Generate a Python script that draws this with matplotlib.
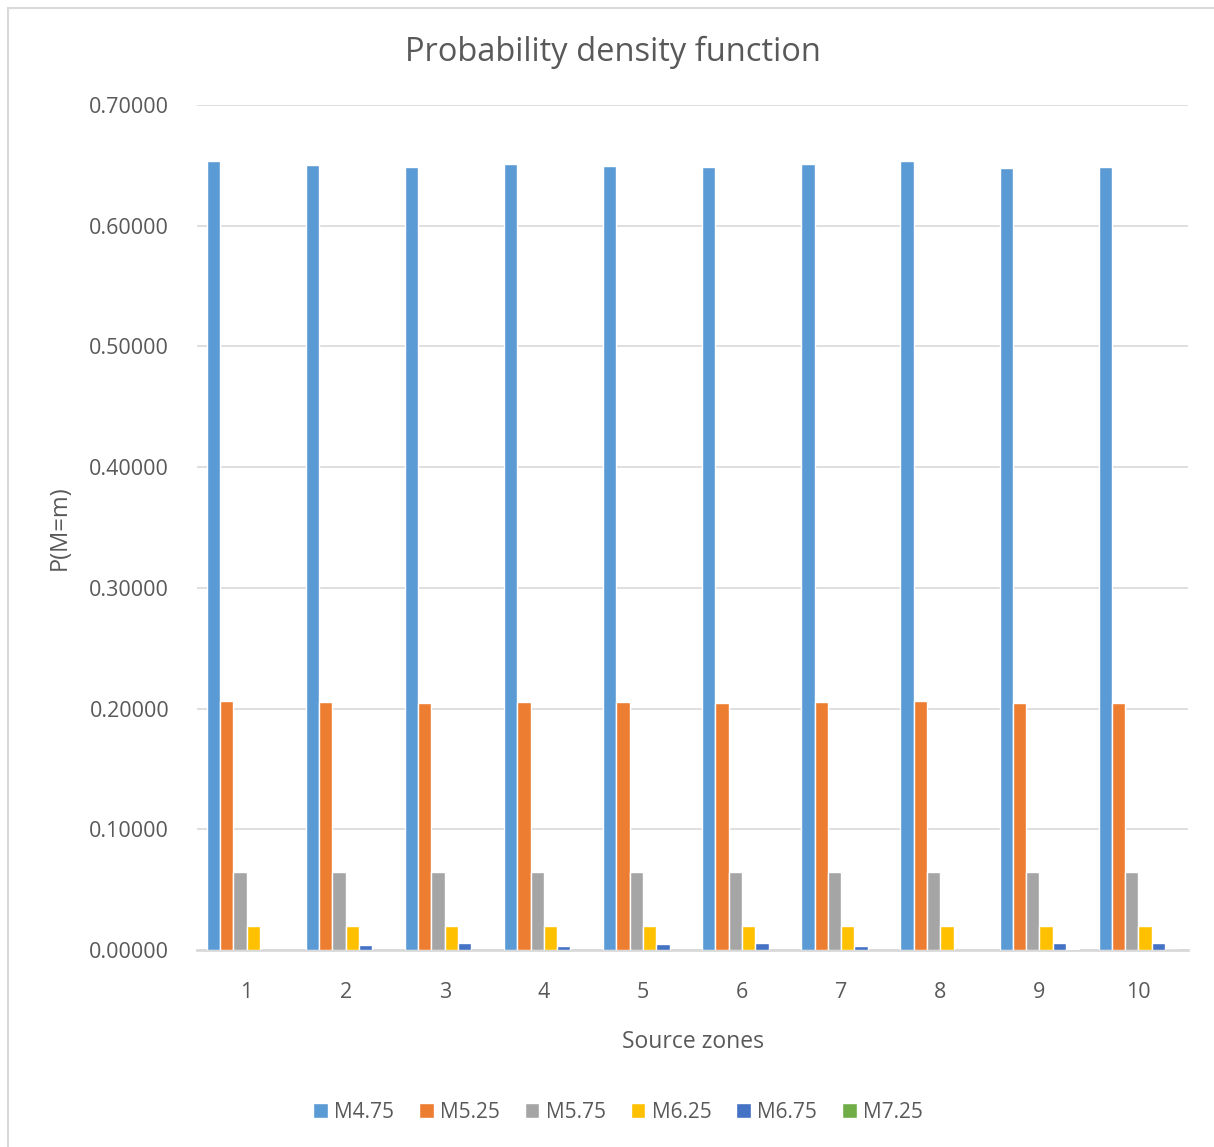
import matplotlib.pyplot as plt
import numpy as np
from matplotlib.patches import Rectangle

plt.rcParams['font.family'] = ['Open Sans', 'DejaVu Sans']

# data
zones = ['1', '2', '3', '4', '5', '6', '7', '8', '9', '10']
series_names = ['M4.75', 'M5.25', 'M5.75', 'M6.25', 'M6.75', 'M7.25']
m475 = [0.6537, 0.6504, 0.6490, 0.6512, 0.6498, 0.6490, 0.6512, 0.6537, 0.6479, 0.6487]
m525 = [0.2063, 0.2054, 0.2046, 0.2054, 0.2054, 0.2046, 0.2054, 0.2063, 0.2046, 0.2046]
m575 = [0.0650, 0.0648, 0.0643, 0.0648, 0.0648, 0.0643, 0.0648, 0.0650, 0.0643, 0.0643]
m625 = [0.0200, 0.0200, 0.0200, 0.0200, 0.0200, 0.0200, 0.0200, 0.0200, 0.0200, 0.0200]
m675 = [0.0000, 0.0042, 0.0058, 0.0033, 0.0052, 0.0058, 0.0031, 0.0000, 0.0058, 0.0058]
m725 = [0.0000, 0.0000, 0.0000, 0.0000, 0.0000, 0.0000, 0.0000, 0.0000, 0.0012, 0.0004]
colors = ['#5b9bd5', '#ed7d31', '#a5a5a5', '#ffc000', '#4472c4', '#70ad47']

fig = plt.figure(figsize=(12.14, 11.47), dpi=100)
ax = fig.add_axes([197 / 1214, 1 - 950 / 1147, 991 / 1214, 845 / 1147])

# outer chart border
fig.patches.append(Rectangle((8 / 1214, -0.01), 1.02, 1 - 8 / 1147 + 0.01,
                             transform=fig.transFigure, fill=False,
                             edgecolor='#d9d9d9', linewidth=1.5))

x = np.arange(len(zones))
step = 0.134
all_series = [m475, m525, m575, m625, m675, m725]
for i, vals in enumerate(all_series):
    offs = (i - 2.5) * step
    # zero values are left out so no white edge shows on the axis line
    v = np.array(vals, dtype=float)
    v[v == 0] = np.nan
    ax.bar(x + offs, v, width=step, color=colors[i], edgecolor='white',
           linewidth=1.0, label=series_names[i], zorder=3)

ax.set_xlim(-0.5, len(zones) - 0.5)
ax.set_ylim(0, 0.7)
ax.set_yticks(np.arange(0, 0.71, 0.1))
ax.set_yticklabels(['%.5f' % v for v in np.arange(0, 0.71, 0.1)])
ax.set_xticks(x)
ax.set_xticklabels(zones)
ax.tick_params(length=0, labelsize=15.5, labelcolor='#595959')
ax.tick_params(axis='y', pad=20)
ax.tick_params(axis='x', pad=23)
ax.grid(axis='y', color='#d9d9d9', linewidth=1.2, zorder=0)
for s in ['top', 'right', 'left']:
    ax.spines[s].set_visible(False)
ax.spines['bottom'].set_color('#d9d9d9')
ax.spines['bottom'].set_linewidth(2)

fig.text(613 / 1214, 1 - 52 / 1147, 'Probability density function', ha='center',
         va='center', fontsize=23.5, color='#595959')
fig.text(60 / 1214, 1 - 528 / 1147, 'P(M=m)', ha='center', va='center',
         rotation=90, fontsize=17, color='#595959')
fig.text(693 / 1214, 1 - 1042 / 1147, 'Source zones', ha='center', va='center',
         fontsize=16.5, color='#595959')

fig.legend(loc='center', bbox_to_anchor=(618 / 1214, 1 - 1112 / 1147), ncol=6,
           frameon=False, fontsize=15, handlelength=0.7, handleheight=0.7,
           handletextpad=0.3, columnspacing=1.2, labelcolor='#595959')

fig.savefig('out.png', dpi=100, facecolor='white')
